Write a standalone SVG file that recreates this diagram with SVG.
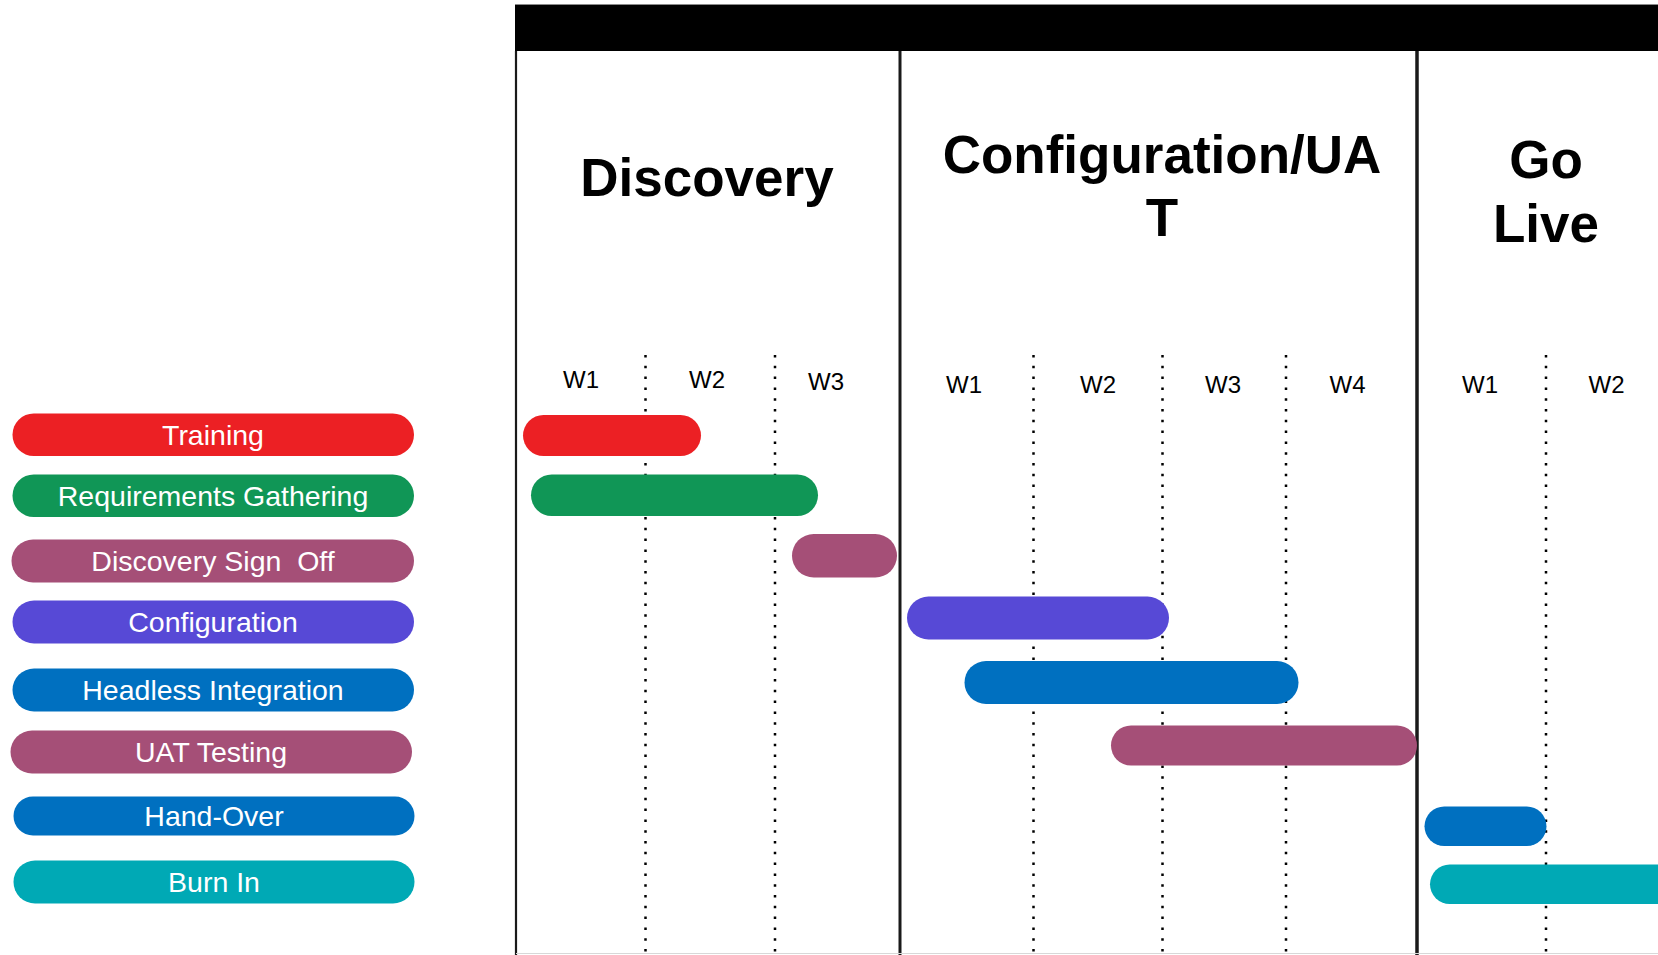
<svg xmlns="http://www.w3.org/2000/svg" width="1658" height="955" viewBox="0 0 1658 955">
<style>
.lbl{font-family:"Liberation Sans",Arial,sans-serif;font-size:28.5px;fill:#ffffff;text-anchor:middle}
.title{font-family:"Liberation Sans",Arial,sans-serif;font-size:53px;font-weight:bold;fill:#000;text-anchor:middle}
.wk{font-family:"Liberation Sans",Arial,sans-serif;font-size:24px;fill:#000;text-anchor:middle}
.dot{stroke:#000;stroke-width:2.5;stroke-dasharray:2.5 8.3;fill:none}
.div{stroke:#1a1a1a;fill:none}
.red{fill:#EC2024}.green{fill:#109656}.mauve{fill:#A54F77}.purple{fill:#5749D6}.blue{fill:#0070C0}.teal{fill:#00A9B5}
</style>
<rect x="0" y="0" width="1658" height="955" fill="#ffffff"/>

<g id="frame">
  <rect x="515" y="4" width="1143" height="47" fill="#000"/>
  <line x1="515" y1="4.5" x2="1658" y2="4.5" stroke="#8a8a8a" stroke-width="1"/>
  <line x1="516" y1="51" x2="516" y2="955" class="div" stroke-width="2.2"/>
  <line x1="900" y1="51" x2="900" y2="955" class="div" stroke-width="3"/>
  <line x1="1417" y1="51" x2="1417" y2="955" class="div" stroke-width="3.5"/>
  <line x1="516" y1="953.5" x2="1658" y2="953.5" stroke="#d8d8d8" stroke-width="1"/>
</g>

<g id="grid">
  <line x1="645.5" y1="355" x2="645.5" y2="955" class="dot"/>
  <line x1="775" y1="355" x2="775" y2="955" class="dot"/>
  <line x1="1033.5" y1="355" x2="1033.5" y2="955" class="dot"/>
  <line x1="1162.5" y1="355" x2="1162.5" y2="955" class="dot"/>
  <line x1="1286" y1="355" x2="1286" y2="955" class="dot"/>
  <line x1="1546" y1="355" x2="1546" y2="955" class="dot"/>
</g>

<g id="phase-discovery">
  <text class="title" x="707" y="196">Discovery</text>
  <text class="wk" x="581" y="388">W1</text>
  <text class="wk" x="707" y="388">W2</text>
  <text class="wk" x="826" y="390">W3</text>
</g>
<g id="phase-config">
  <text class="title" x="1162" y="173">Configuration/UA</text>
  <text class="title" x="1162" y="236">T</text>
  <text class="wk" x="964" y="392.5">W1</text>
  <text class="wk" x="1098" y="392.5">W2</text>
  <text class="wk" x="1223" y="392.5">W3</text>
  <text class="wk" x="1347.5" y="392.5">W4</text>
</g>
<g id="phase-golive">
  <text class="title" x="1546" y="178">Go</text>
  <text class="title" x="1546" y="242">Live</text>
  <text class="wk" x="1480" y="393">W1</text>
  <text class="wk" x="1606.5" y="393">W2</text>
</g>

<g id="task-training">
  <rect class="red" x="12.5" y="413.5" width="401.5" height="42.5" rx="21.25"/>
  <text class="lbl" x="213" y="445">Training</text>
</g>
<g id="task-requirements">
  <rect class="green" x="12.5" y="474.5" width="401.5" height="42.5" rx="21.25"/>
  <text class="lbl" x="213" y="505.5">Requirements Gathering</text>
</g>
<g id="task-signoff">
  <rect class="mauve" x="11.5" y="539.5" width="402.5" height="43" rx="21.5"/>
  <text class="lbl" x="213" y="571" xml:space="preserve">Discovery Sign  Off</text>
</g>
<g id="task-configuration">
  <rect class="purple" x="12.5" y="600.5" width="401.5" height="43" rx="21.5"/>
  <text class="lbl" x="213" y="632">Configuration</text>
</g>
<g id="task-headless">
  <rect class="blue" x="12.5" y="668.5" width="401.5" height="43" rx="21.5"/>
  <text class="lbl" x="213" y="700">Headless Integration</text>
</g>
<g id="task-uat">
  <rect class="mauve" x="10.5" y="730.5" width="401.5" height="43" rx="21.5"/>
  <text class="lbl" x="211" y="761.5">UAT Testing</text>
</g>
<g id="task-handover">
  <rect class="blue" x="13.5" y="796.5" width="401" height="39" rx="19.5"/>
  <text class="lbl" x="214" y="825.5">Hand-Over</text>
</g>
<g id="task-burnin">
  <rect class="teal" x="13.5" y="860.5" width="401" height="43" rx="21.5"/>
  <text class="lbl" x="214" y="891.5">Burn In</text>
</g>

<g id="bars">
  <rect id="bar-training" class="red" x="523" y="415" width="178" height="41" rx="20.5"/>
  <rect id="bar-requirements" class="green" x="531" y="474.5" width="287" height="41.5" rx="20.75"/>
  <rect id="bar-signoff" class="mauve" x="792" y="534" width="105" height="43.5" rx="21.75"/>
  <rect id="bar-configuration" class="purple" x="907" y="596.5" width="262" height="43" rx="21.5"/>
  <rect id="bar-headless" class="blue" x="964.5" y="661" width="334" height="43" rx="21.5"/>
  <rect id="bar-uat" class="mauve" x="1111" y="725.5" width="306" height="40" rx="20"/>
  <rect id="bar-handover" class="blue" x="1424.5" y="806.5" width="122" height="39.5" rx="19.75"/>
  <rect id="bar-burnin" class="teal" x="1430" y="864.5" width="270" height="39.5" rx="19.75"/>
</g>
</svg>
